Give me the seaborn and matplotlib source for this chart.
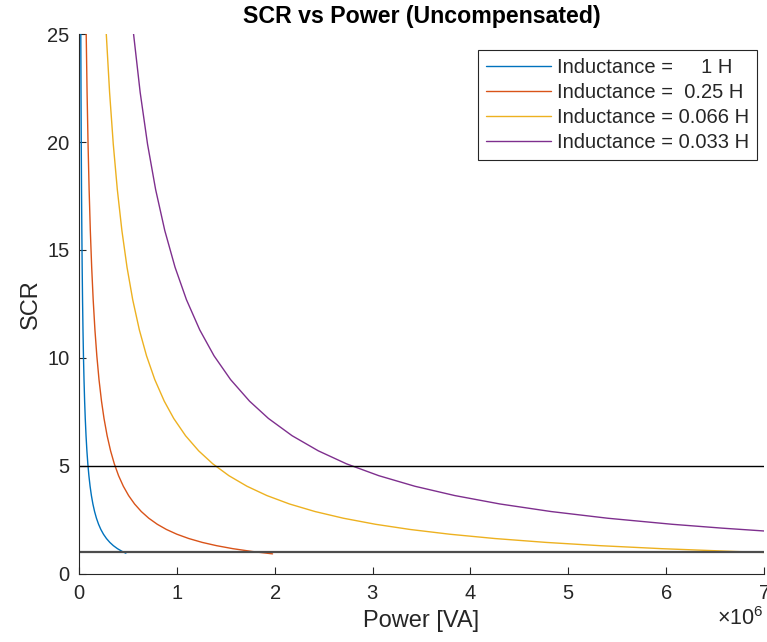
import numpy as np
import pandas as pd
import matplotlib
matplotlib.use("Agg")
import matplotlib.pyplot as plt
import seaborn as sns
from matplotlib.ticker import ScalarFormatter

# Valores (potência em MVA, SCR adimensional)
labels = ["Inductance =     1 H", "Inductance =  0.25 H",
          "Inductance = 0.066 H", "Inductance = 0.033 H"]

p_1h = [0.0184, 0.0206, 0.0231, 0.0258, 0.0289, 0.0324, 0.0362, 0.0407, 0.0455,
        0.0511, 0.0575, 0.0639, 0.0719, 0.0807, 0.0902, 0.1011, 0.1133, 0.1267,
        0.142, 0.1592, 0.1783, 0.2, 0.2233, 0.25, 0.2805, 0.3151, 0.3511, 0.3932,
        0.4423, 0.479]
scr_1h = [25, 22.3, 19.9, 17.8, 15.9, 14.2, 12.7, 11.3, 10.1, 9.0, 8.0, 7.2, 6.4,
          5.7, 5.1, 4.55, 4.06, 3.63, 3.24, 2.89, 2.58, 2.3, 2.06, 1.84, 1.64,
          1.46, 1.31, 1.17, 1.04, 0.96]

p_025h = [0.0736, 0.0825, 0.0925, 0.1034, 0.1157, 0.1296, 0.1449, 0.1628, 0.1822,
          0.2044, 0.23, 0.2556, 0.2875, 0.3228, 0.3608, 0.4044, 0.4532, 0.5069,
          0.5679, 0.6367, 0.7132, 0.8, 0.8932, 1.0, 1.122, 1.26, 1.405, 1.573,
          1.769, 1.978]
scr_025h = [25, 22.3, 19.9, 17.8, 15.9, 14.2, 12.7, 11.3, 10.1, 9.0, 8.0, 7.2, 6.4,
            5.7, 5.1, 4.55, 4.06, 3.63, 3.24, 2.89, 2.58, 2.3, 2.06, 1.84, 1.64,
            1.46, 1.31, 1.17, 1.04, 0.93]

p_0066h = [0.2788, 0.3126, 0.3503, 0.3916, 0.4384, 0.4908, 0.5488, 0.6168, 0.6901,
           0.7744, 0.8713, 0.9681, 1.089, 1.223, 1.367, 1.532, 1.717, 1.92, 2.151,
           2.412, 2.702, 3.03, 3.383, 3.788, 4.25, 4.774, 5.321, 5.957, 6.702, 7.0]
scr_0066h = [25, 22.3, 19.9, 17.8, 15.9, 14.2, 12.7, 11.3, 10.1, 9.0, 8.0, 7.2, 6.4,
             5.7, 5.1, 4.55, 4.06, 3.63, 3.24, 2.89, 2.58, 2.3, 2.06, 1.84, 1.64,
             1.46, 1.31, 1.17, 1.04, 0.996]

p_0033h = [0.5576, 0.6251, 0.7005, 0.7831, 0.8767, 0.9817, 1.098, 1.234, 1.38,
           1.549, 1.743, 1.936, 2.178, 2.446, 2.733, 3.064, 3.433, 3.84, 4.302,
           4.824, 5.403, 6.061, 6.575, 7.0]
scr_0033h = [25, 22.3, 19.9, 17.8, 15.9, 14.2, 12.7, 11.3, 10.1, 9.0, 8.0, 7.2, 6.4,
             5.7, 5.1, 4.55, 4.06, 3.63, 3.24, 2.89, 2.58, 2.3, 2.12, 1.99]

limites_scr = [5, 1]
x_ticks = [0, 1, 2, 3, 4, 5, 6, 7]
y_ticks = [0, 5, 10, 15, 20, 25]

cores = ["#0072BD", "#D95319", "#EDB120", "#7E2F8E"]

# monta o DataFrame no formato longo
partes = []
for lab, p, s in zip(labels, [p_1h, p_025h, p_0066h, p_0033h],
                     [scr_1h, scr_025h, scr_0066h, scr_0033h]):
    partes.append(pd.DataFrame({"Power": np.array(p) * 1e6, "SCR": s, "Inductance": lab}))
df = pd.concat(partes, ignore_index=True)

sns.set_style("ticks", {"xtick.direction": "in", "ytick.direction": "in"})
plt.rcParams["font.family"] = ["Liberation Sans", "DejaVu Sans"]
plt.rcParams["mathtext.fontset"] = "custom"
plt.rcParams["mathtext.rm"] = "Liberation Sans"
txt = "#262626"

fig = plt.figure(figsize=(7.67, 6.42), dpi=100)
ax = fig.add_axes([0.103, 0.106, 0.893, 0.841])

sns.lineplot(data=df, x="Power", y="SCR", hue="Inductance", hue_order=labels,
             palette=cores, estimator=None, sort=False, linewidth=1.0,
             legend=False, ax=ax)
curvas = list(ax.lines[:4])

ax.axhline(limites_scr[0], color="black", lw=1.0)
ax.axhline(limites_scr[1], color="#4d4d4d", lw=1.6)

ax.set_xlim(0, 7e6)
ax.set_ylim(0, 25)
ax.set_xticks(np.array(x_ticks) * 1e6)
ax.set_yticks(y_ticks)
fmt = ScalarFormatter(useMathText=True)
fmt.set_powerlimits((0, 0))
ax.xaxis.set_major_formatter(fmt)
ax.xaxis.get_offset_text().set_fontsize(15.5)
ax.xaxis.get_offset_text().set_color(txt)

ax.tick_params(axis="both", labelsize=14.5, length=5, width=0.8, pad=7,
               colors=txt, labelcolor=txt)
sns.despine(ax=ax)
for sp in ["left", "bottom"]:
    ax.spines[sp].set_color(txt)
    ax.spines[sp].set_linewidth(0.8)

ax.set_xlabel("Power [VA]", fontsize=17, color=txt, labelpad=5)
ax.set_ylabel("SCR", fontsize=17, color=txt)
ax.set_title("SCR vs Power (Uncompensated)", fontsize=16.7, fontweight="bold",
             color="black", pad=8)

leg = ax.legend(curvas, labels, loc="upper right", bbox_to_anchor=(0.990, 0.970),
                borderaxespad=0, fontsize=14.5, handlelength=3.2,
                handletextpad=0.3, labelspacing=0.3, fancybox=False,
                framealpha=1, edgecolor=txt)
leg.get_frame().set_linewidth(0.8)

fig.savefig("out.png", dpi=100)
